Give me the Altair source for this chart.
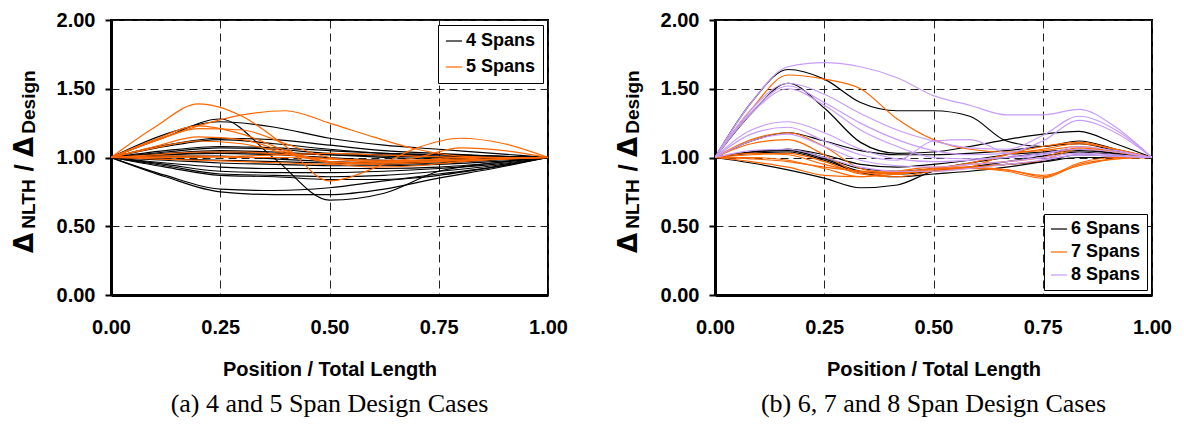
import altair as alt
import pandas as pd

# ---------------- data ----------------
x4 = [0, 0.125, 0.25, 0.375, 0.5, 0.625, 0.75, 0.875, 1.0]
x5 = [0, 0.1, 0.2, 0.3, 0.4, 0.5, 0.6, 0.7, 0.8, 0.9, 1.0]
xr = [0, 0.083, 0.167, 0.25, 0.333, 0.417, 0.5, 0.583, 0.667, 0.75, 0.833, 0.917, 1.0]

spans4 = [
    [1, 1.15, 1.28, 0.99, 0.69, 0.74, 0.90, 0.96, 1],
    [1, 1.17, 1.26, 1.22, 1.14, 1.09, 1.06, 1.03, 1],
    [1, 1.09, 1.14, 1.13, 1.09, 1.05, 1.03, 1.01, 1],
    [1, 1.08, 1.13, 1.10, 1.06, 1.03, 1.02, 1.01, 1],
    [1, 1.05, 1.08, 1.07, 1.05, 1.03, 1.02, 1.01, 1],
    [1, 1.04, 1.07, 1.06, 1.03, 1.02, 1.01, 1.00, 1],
    [1, 1.03, 1.05, 1.04, 1.02, 1.00, 0.99, 0.995, 1],
    [1, 1.02, 1.03, 1.02, 1.00, 0.98, 0.98, 0.99, 1],
    [1, 1.01, 1.01, 0.99, 0.97, 0.96, 0.97, 0.985, 1],
    [1, 0.99, 0.98, 0.97, 0.96, 0.95, 0.96, 0.98, 1],
    [1, 0.98, 0.96, 0.95, 0.94, 0.94, 0.95, 0.97, 1],
    [1, 0.96, 0.93, 0.92, 0.92, 0.92, 0.93, 0.96, 1],
    [1, 0.95, 0.90, 0.89, 0.89, 0.90, 0.92, 0.95, 1],
    [1, 0.94, 0.88, 0.87, 0.86, 0.87, 0.90, 0.94, 1],
    [1, 0.93, 0.87, 0.86, 0.84, 0.84, 0.88, 0.93, 1],
    [1, 0.87, 0.77, 0.76, 0.78, 0.83, 0.87, 0.93, 1],
    [1, 0.86, 0.75, 0.73, 0.73, 0.77, 0.85, 0.92, 1],
    [1, 1.02, 1.04, 1.03, 1.02, 1.01, 1.00, 1.00, 1],
]
spans5 = [
    [1, 1.22, 1.39, 1.30, 1.08, 0.83, 0.92, 1.07, 1.14, 1.10, 1],
    [1, 1.12, 1.23, 1.31, 1.34, 1.25, 1.15, 1.06, 1.01, 1.00, 1],
    [1, 1.13, 1.23, 1.17, 1.05, 0.97, 0.96, 1.00, 1.07, 1.05, 1],
    [1, 1.12, 1.21, 1.20, 1.10, 1.00, 0.97, 0.98, 1.00, 1.00, 1],
    [1, 1.08, 1.15, 1.13, 1.04, 0.97, 0.95, 0.96, 0.98, 0.99, 1],
    [1, 1.07, 1.12, 1.10, 1.03, 0.96, 0.93, 0.94, 0.97, 0.99, 1],
    [1, 1.01, 1.01, 1.00, 1.00, 0.99, 0.98, 0.98, 0.99, 1.00, 1],
    [1, 1.00, 1.00, 1.01, 1.02, 1.03, 1.02, 1.01, 1.00, 1.00, 1],
    [1, 0.99, 0.98, 0.97, 0.96, 0.95, 0.96, 0.97, 0.98, 0.99, 1],
    [1, 1.02, 1.04, 1.04, 1.02, 0.99, 0.97, 0.97, 0.98, 0.99, 1],
]
spans6 = [
    [1, 1.40, 1.64, 1.57, 1.40, 1.34, 1.34, 1.30, 1.12, 1.08, 1.12, 1.06, 1],
    [1, 1.32, 1.54, 1.36, 1.11, 1.03, 1.04, 1.08, 1.13, 1.17, 1.19, 1.10, 1],
    [1, 1.12, 1.18, 1.12, 1.05, 1.02, 1.02, 1.03, 1.05, 1.08, 1.10, 1.05, 1],
    [1, 1.04, 1.06, 1.02, 0.95, 0.93, 0.95, 0.98, 1.02, 1.04, 1.06, 1.03, 1],
    [1, 1.04, 1.06, 1.00, 0.92, 0.90, 0.92, 0.96, 1.00, 1.03, 1.05, 1.03, 1],
    [1, 1.04, 1.05, 0.99, 0.90, 0.88, 0.90, 0.93, 0.97, 1.01, 1.04, 1.02, 1],
    [1, 1.03, 1.04, 0.98, 0.89, 0.86, 0.88, 0.90, 0.93, 0.97, 1.02, 1.01, 1],
    [1, 0.96, 0.91, 0.85, 0.78, 0.80, 0.90, 0.93, 0.95, 0.97, 1.00, 1.00, 1],
]
spans7 = [
    [1, 1.35, 1.60, 1.57, 1.50, 1.28, 1.13, 1.06, 1.04, 1.05, 1.08, 1.04, 1],
    [1, 1.13, 1.18, 1.08, 0.92, 0.88, 0.92, 0.96, 1.02, 1.06, 1.10, 1.06, 1],
    [1, 1.10, 1.13, 1.02, 0.89, 0.88, 0.92, 0.95, 0.97, 1.00, 1.07, 1.04, 1],
    [1, 1.02, 1.03, 0.97, 0.88, 0.86, 0.90, 0.92, 0.91, 0.86, 0.96, 1.00, 1],
    [1, 1.00, 0.98, 0.92, 0.86, 0.88, 0.92, 0.92, 0.90, 0.85, 0.95, 0.99, 1],
    [1, 0.97, 0.93, 0.87, 0.86, 0.90, 0.93, 0.93, 0.91, 0.87, 0.94, 0.99, 1],
    [1, 1.03, 1.02, 0.95, 0.90, 0.90, 0.91, 0.93, 0.95, 0.98, 1.06, 1.04, 1],
    [1, 0.99, 0.97, 0.93, 0.90, 0.89, 0.90, 0.93, 1.02, 1.08, 1.11, 1.06, 1],
]
spans8 = [
    [1, 1.40, 1.66, 1.69, 1.66, 1.58, 1.45, 1.38, 1.31, 1.31, 1.35, 1.22, 1],
    [1, 1.35, 1.54, 1.46, 1.32, 1.20, 1.12, 1.07, 1.06, 1.16, 1.30, 1.20, 1],
    [1, 1.33, 1.52, 1.40, 1.25, 1.13, 1.05, 1.02, 1.03, 1.12, 1.27, 1.18, 1],
    [1, 1.32, 1.50, 1.38, 1.20, 1.08, 1.00, 0.99, 1.00, 1.02, 1.08, 1.05, 1],
    [1, 1.20, 1.26, 1.18, 1.06, 0.99, 0.97, 0.98, 1.00, 1.03, 1.06, 1.04, 1],
    [1, 1.17, 1.22, 1.12, 1.02, 0.98, 1.12, 1.13, 1.03, 0.99, 1.02, 1.01, 1],
    [1, 1.12, 1.17, 1.08, 0.98, 0.94, 0.93, 0.95, 0.97, 1.00, 1.03, 1.02, 1],
    [1, 1.05, 1.06, 1.00, 0.93, 0.90, 0.90, 0.92, 0.95, 0.98, 1.02, 1.01, 1],
]

groups_a = ["4 Spans", "5 Spans"]
groups_b = ["6 Spans", "7 Spans", "8 Spans"]
x_ticks = [0, 0.25, 0.5, 0.75, 1.0]
y_ticks = [0, 0.5, 1.0, 1.5, 2.0]

BLACK = "#000000"
ORANGE = "#FF6600"
PURPLE = "#C99CF7"
SANS = "Liberation Sans"
SERIF = "Liberation Serif"
DELTA_FONT = "DejaVu Sans"


def frame(group, xs, curves, offset):
    rows = []
    for i, vals in enumerate(curves):
        for xv, yv in zip(xs, vals):
            rows.append({"x": xv, "y": yv, "group": group, "series": f"{group}-{i + offset}"})
    return rows


df_a = pd.DataFrame(frame("4 Spans", x4, spans4, 0) + frame("5 Spans", x5, spans5, 100))
df_b = pd.DataFrame(
    frame("6 Spans", xr, spans6, 0) + frame("7 Spans", xr, spans7, 100) + frame("8 Spans", xr, spans8, 200)
)

W, H = 437, 275


def panel(df, domain, rng, legend_orient, legend_offset, row_pad, leg_pad, caption):
    xaxis = alt.Axis(
        values=x_ticks, format=".2f", labelFont=SANS, labelFontSize=20, labelFontWeight="bold",
        labelColor="black", labelPadding=22, ticks=False, domainWidth=3, domainColor="black",
        grid=True, gridDash=[8, 5], gridColor="#222222", gridWidth=1,
        title="Position / Total Length", titleFont=SANS, titleFontSize=20, titleFontWeight="bold",
        titleColor="black", titlePadding=22, labelFlush=False,
    )
    yaxis = alt.Axis(
        values=y_ticks, format=".2f", labelFont=SANS, labelFontSize=20, labelFontWeight="bold",
        labelColor="black", labelPadding=10, ticks=True, tickSize=6, tickWidth=2, tickColor="black",
        domainWidth=3, domainColor="black", grid=True, gridDash=[8, 5], gridColor="#222222",
        gridWidth=1, title=None, labelFlush=False,
    )
    lines = alt.Chart(df).mark_line(interpolate="monotone", strokeWidth=1.2, clip=True).encode(
        x=alt.X("x:Q", scale=alt.Scale(domain=[0, 1], nice=False), axis=xaxis),
        y=alt.Y("y:Q", scale=alt.Scale(domain=[0, 2], nice=False), axis=yaxis),
        color=alt.Color(
            "group:N",
            scale=alt.Scale(domain=domain, range=rng),
            legend=alt.Legend(
                title=None, orient=legend_orient, offset=legend_offset, strokeColor="black",
                fillColor="white", padding=leg_pad, rowPadding=row_pad, symbolType="stroke",
                symbolStrokeWidth=1.2, symbolSize=260, labelFont=SANS, labelFontSize=18,
                labelFontWeight="bold", labelColor="black", symbolOffset=0, labelOffset=3,
            ),
        ),
        detail="series:N",
    )

    def piece(text, px, py, size, font):
        return alt.Chart(pd.DataFrame({"t": [text]})).mark_text(
            angle=270, align="center", baseline="alphabetic", font=font, fontSize=size,
            fontWeight="bold", color="black",
        ).encode(text="t:N", x=alt.value(px), y=alt.value(py))

    ytitle = [
        piece("Δ", -78, 223, 26, DELTA_FONT),
        piece("NLTH", -76, 184, 19, SANS),
        piece("/", -78, 148, 26, SANS),
        piece("Δ", -78, 127, 26, DELTA_FONT),
        piece("Design", -76, 82, 19, SANS),
    ]
    return alt.layer(lines, *ytitle).properties(
        width=W, height=H,
        title=alt.TitleParams(
            caption, orient="bottom", font=SERIF, fontSize=26, fontWeight="normal",
            color="black", offset=12, anchor="middle",
        ),
    )


left = panel(df_a, groups_a, [BLACK, ORANGE], "top-right", 5, 8, 7, "(a) 4 and 5 Span Design Cases")
right = panel(df_b, groups_b, [BLACK, ORANGE, PURPLE], "bottom-right", 5, 5, 6,
              "(b) 6, 7 and 8 Span Design Cases")

chart = (
    alt.hconcat(left, right, spacing=46)
    .resolve_scale(color="independent")
    .configure_view(stroke="black", strokeWidth=2)
    .properties(padding={"left": 3, "top": 1, "right": 0, "bottom": 0}, background="white")
)

chart.save("out.html", embed_options={"renderer": "svg", "actions": False})
